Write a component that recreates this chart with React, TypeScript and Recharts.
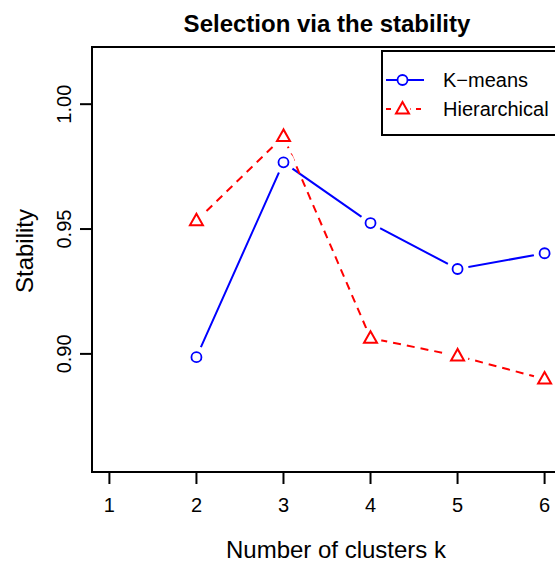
import { LineChart, Line, XAxis, YAxis, ReferenceArea, Legend } from "recharts";

// number of clusters k and stability of each method
const clusters = [2, 3, 4, 5, 6];
const kmeans = [0.8987, 0.9767, 0.9524, 0.934, 0.9403];
const hierarchical = [0.9533, 0.9871, 0.9063, 0.8992, 0.8899];

const xTicks = [1, 2, 3, 4, 5, 6];
const yTicks = [0.9, 0.95, 1.0];
const xDomain = [0.8, 6.2];
const yDomain = [0.8527, 1.0229];

const BLUE = "#0000ff";
const RED = "#ff0000";
const FONT = "'Liberation Sans', Arial, Helvetica, sans-serif";

const data = clusters.map((k, i) => ({
  k,
  kmeans: kmeans[i],
  hierarchical: hierarchical[i],
}));

const CircleDot = (props: any) => {
  const { cx, cy } = props;
  if (cx == null || cy == null) return null;
  return (
    <g>
      <circle cx={cx} cy={cy} r={11} fill="#fff" />
      <circle cx={cx} cy={cy} r={5} fill="none" stroke={BLUE} strokeWidth={1.8} />
    </g>
  );
};

const TriangleDot = (props: any) => {
  const { cx, cy } = props;
  if (cx == null || cy == null) return null;
  const pts = `${cx},${cy - 7} ${cx - 6.5},${cy + 4.5} ${cx + 6.5},${cy + 4.5}`;
  return (
    <g>
      <circle cx={cx} cy={cy} r={11} fill="#fff" />
      <polygon points={pts} fill="none" stroke={RED} strokeWidth={2} strokeLinejoin="miter" />
    </g>
  );
};

const XTick = (props: any) => (
  <text x={props.x} y={512} textAnchor="middle" fontSize={20} fontFamily={FONT} fill="#000">
    {props.payload.value}
  </text>
);

const YTick = (props: any) => {
  const y = props.y;
  return (
    <text
      x={71.5}
      y={y}
      transform={`rotate(-90 71.5 ${y})`}
      textAnchor="middle"
      fontSize={20}
      fontFamily={FONT}
      fill="#000"
    >
      {props.payload.value.toFixed(2)}
    </text>
  );
};

const XLabel = () => (
  <text x={336} y={558} textAnchor="middle" fontSize={24} fontFamily={FONT} fill="#000">
    Number of clusters k
  </text>
);

const YLabel = () => (
  <text
    x={32.5}
    y={251}
    transform="rotate(-90 32.5 251)"
    textAnchor="middle"
    fontSize={24}
    fontFamily={FONT}
    fill="#000"
  >
    Stability
  </text>
);

const LegendBox = () => (
  <div
    style={{
      width: 196,
      height: 82,
      border: "2px solid #000",
      background: "#fff",
      position: "relative",
      fontFamily: FONT,
      fontSize: 20,
    }}
  >
    <svg width={60} height={82} style={{ position: "absolute", left: 0, top: 0 }}>
      <line x1={3} y1={28} x2={41} y2={28} stroke={BLUE} strokeWidth={2} />
      <circle cx={19.5} cy={28} r={5} fill="#fff" stroke={BLUE} strokeWidth={1.8} />
      <line x1={3} y1={57} x2={41} y2={57} stroke={RED} strokeWidth={2} strokeDasharray="5 5" />
      <circle cx={19.5} cy={57} r={8} fill="#fff" />
      <polygon points="19.5,50 13,61.5 26,61.5" fill="none" stroke={RED} strokeWidth={2} />
    </svg>
    <div style={{ position: "absolute", left: 60, top: 16, lineHeight: "24px" }}>K−means</div>
    <div style={{ position: "absolute", left: 60, top: 45, lineHeight: "24px" }}>Hierarchical</div>
  </div>
);

export default function App() {
  return (
    <div
      style={{
        position: "fixed",
        left: 0,
        top: 0,
        width: 555,
        height: 563,
        overflow: "hidden",
        background: "#fff",
      }}
    >
      <div
        style={{
          position: "absolute",
          left: 327,
          top: 12,
          transform: "translateX(-50%)",
          whiteSpace: "nowrap",
          fontFamily: FONT,
          fontWeight: "bold",
          fontSize: 24,
          lineHeight: "24px",
          color: "#000",
        }}
      >
        Selection via the stability
      </div>
      <div style={{ position: "absolute", left: 0, top: 0, width: 600, height: 563 }}>
        <LineChart
          width={580}
          height={563}
          data={data}
          margin={{ top: 47, right: 18, bottom: 0, left: 0 }}
        >
          <XAxis
            type="number"
            dataKey="k"
            domain={xDomain}
            ticks={xTicks}
            allowDataOverflow
            height={91}
            axisLine={false}
            tickSize={12}
            tickLine={{ stroke: "#000", strokeWidth: 2 }}
            tick={<XTick />}
            label={<XLabel />}
          />
          <YAxis
            type="number"
            domain={yDomain}
            ticks={yTicks}
            allowDataOverflow
            width={92}
            axisLine={false}
            tickSize={12}
            tickLine={{ stroke: "#000", strokeWidth: 2 }}
            tick={<YTick />}
            label={<YLabel />}
          />
          <ReferenceArea
            x1={xDomain[0]}
            x2={xDomain[1]}
            y1={yDomain[0]}
            y2={yDomain[1]}
            fill="none"
            fillOpacity={0}
            stroke="#000"
            strokeWidth={2}
          />
          <Legend
            layout="horizontal"
            verticalAlign="middle"
            align="center"
            content={<LegendBox />}
            wrapperStyle={{ left: 381, top: 50, width: 200, height: 86 }}
          />
          <Line
            dataKey="kmeans"
            name="K−means"
            type="linear"
            stroke={BLUE}
            strokeWidth={2}
            dot={<CircleDot />}
            activeDot={false}
            isAnimationActive={false}
          />
          <Line
            dataKey="hierarchical"
            name="Hierarchical"
            type="linear"
            stroke={RED}
            strokeWidth={2}
            strokeDasharray="8 6"
            dot={<TriangleDot />}
            activeDot={false}
            isAnimationActive={false}
          />
        </LineChart>
      </div>
    </div>
  );
}
